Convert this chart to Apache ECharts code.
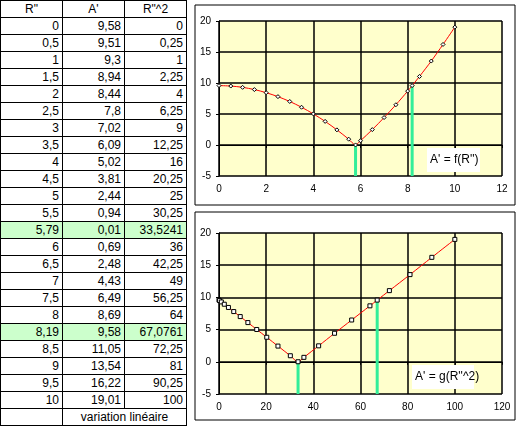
<!DOCTYPE html>
<html><head><meta charset="utf-8">
<script src="https://cdn.jsdelivr.net/npm/echarts@6/dist/echarts.min.js"></script>
<style>
body{margin:0;background:#fff;font-family:Arial,"Liberation Sans",sans-serif;}
#tbl{position:absolute;left:0;top:0;border-collapse:collapse;font-size:12px;}
#tbl td{border:1px solid #000;height:16px;padding:0 3px;text-align:right;width:55px;}
#tbl tr.hd td{text-align:center;}
#tbl tr.hl td{background:#ccffcc;}
#chart{position:absolute;left:190px;top:0;width:330px;height:426px;}
</style></head><body>
<table id="tbl"></table>
<div id="chart"></div>
<script>
const rLabels = ['0','0,5','1','1,5','2','2,5','3','3,5','4','4,5','5','5,5','5,79','6','6,5','7','7,5','8','8,19','8,5','9','9,5','10'];
const aLabels = ['9,58','9,51','9,3','8,94','8,44','7,8','7,02','6,09','5,02','3,81','2,44','0,94','0,01','0,69','2,48','4,43','6,49','8,69','9,58','11,05','13,54','16,22','19,01'];
const r2Labels = ['0','0,25','1','2,25','4','6,25','9','12,25','16','20,25','25','30,25','33,5241','36','42,25','49','56,25','64','67,0761','72,25','81','90,25','100'];
const highlight = ['5,79','8,19'];
const num = s => parseFloat(s.replace(',', '.'));

const tbl = document.getElementById('tbl');
let html = '<tr class="hd"><td>R"</td><td>A\'</td><td>R"^2</td></tr>';
rLabels.forEach((r, i) => {
  html += '<tr' + (highlight.includes(r) ? ' class="hl"' : '') + '><td>' + r + '</td><td>' + aLabels[i] + '</td><td>' + r2Labels[i] + '</td></tr>';
});
html += '<tr><td></td><td colspan="2" style="text-align:center">variation linéaire</td></tr>';
tbl.innerHTML = html;

const pts1 = rLabels.map((r, i) => [num(r), num(aLabels[i])]);
const pts2 = r2Labels.map((r, i) => [num(r), num(aLabels[i])]);
const marks1 = highlight.map(h => { const i = rLabels.indexOf(h); return [[num(h), -5], [num(h), num(aLabels[i])]]; });
const marks2 = highlight.map(h => { const i = rLabels.indexOf(h); return [[num(r2Labels[i]), -5], [num(r2Labels[i]), num(aLabels[i])]]; });

const myChart = echarts.init(document.getElementById('chart'));
const axisStyle = {lineStyle: {color: '#000'}};
function xAx(idx, max, interval) {
  return {gridIndex: idx, type: 'value', min: 0, max: max, interval: interval,
    axisLine: axisStyle, axisTick: {show: true, inside: false, length: 3, lineStyle: {color: '#000'}},
    axisLabel: {color: '#000', fontSize: 10, fontFamily: 'Arial'},
    splitLine: {show: true, lineStyle: {color: '#000', width: 1.5}}};
}
function yAx(idx) {
  return {gridIndex: idx, type: 'value', min: -5, max: 20, interval: 5,
    axisLine: {show: true, ...axisStyle}, axisTick: {show: true, length: 3, lineStyle: {color: '#000'}},
    axisLabel: {color: '#000', fontSize: 10, fontFamily: 'Arial'},
    splitLine: {show: true, lineStyle: {color: '#000', width: 1.5}}};
}
function lines(idx, data, sym, marks) {
  return [{
    type: 'line', xAxisIndex: idx, yAxisIndex: idx, data: data, smooth: 0.3,
    symbol: sym, symbolSize: 4, lineStyle: {color: '#ff0000', width: 1},
    itemStyle: {color: '#fff', borderColor: '#000', borderWidth: 1}
  }].concat(marks.map(m => ({
    type: 'line', xAxisIndex: idx, yAxisIndex: idx, data: m, symbol: 'none',
    lineStyle: {color: '#33ee99', width: 3}, z: 1
  })));
}
const option = {
  animation: false,
  graphic: [
    {type: 'rect', shape: {x: 5, y: 5, width: 320, height: 200}, style: {fill: 'none', stroke: '#000'}},
    {type: 'rect', shape: {x: 5, y: 212, width: 320, height: 208}, style: {fill: 'none', stroke: '#000'}},
    {type: 'rect', shape: {x: 237, y: 148, width: 53, height: 24}, style: {fill: '#fff'}, z: 10},
    {type: 'text', x: 240, y: 154, style: {text: "A' = f(R'')", fontSize: 12, fontFamily: 'Arial', fill: '#000'}, z: 11},
    {type: 'rect', shape: {x: 222, y: 365, width: 62, height: 24}, style: {fill: '#fff'}, z: 10},
    {type: 'text', x: 225, y: 371, style: {text: "A' = g(R''^2)", fontSize: 12, fontFamily: 'Arial', fill: '#000'}, z: 11}
  ],
  grid: [
    {left: 29, top: 21, width: 283, height: 155, backgroundColor: '#ffffcc', show: true, borderWidth: 0},
    {left: 29, top: 233, width: 283, height: 161, backgroundColor: '#ffffcc', show: true, borderWidth: 0}
  ],
  xAxis: [xAx(0, 12, 2), xAx(1, 120, 20)],
  yAxis: [yAx(0), yAx(1)],
  series: lines(0, pts1, 'diamond', marks1).concat(lines(1, pts2, 'rect', marks2))
};
myChart.setOption(option);
</script>
</body></html>
